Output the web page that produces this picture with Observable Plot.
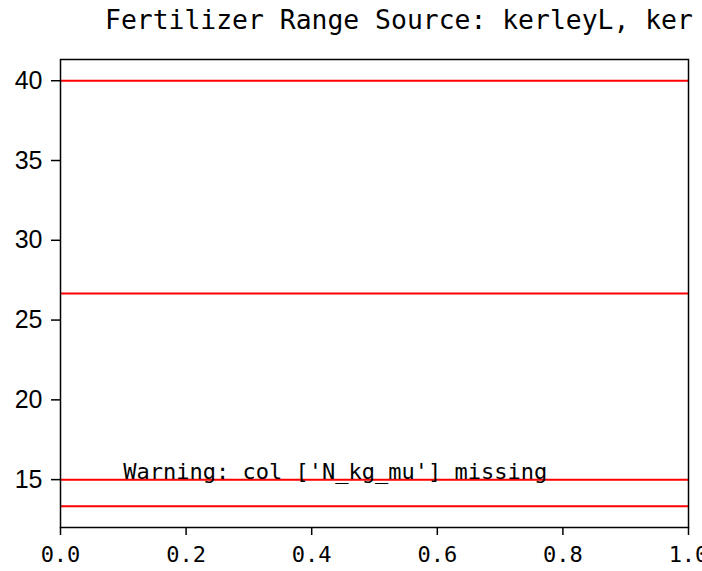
<!DOCTYPE html>
<html>
<head>
<meta charset="utf-8">
<script src="https://cdn.jsdelivr.net/npm/d3@7"></script>
<script src="https://cdn.jsdelivr.net/npm/@observablehq/plot@0.6"></script>
<style>
  html, body { margin: 0; padding: 0; background: #fff; overflow: hidden; width: 702px; height: 571px; }
  #title { height: 45px; box-sizing: border-box; padding-top: 4px; padding-left: 105px; white-space: nowrap; overflow: hidden;
           font-family: "DejaVu Sans Mono", monospace; font-size: 26.4px; color: #000; }
  svg { display: block; overflow: hidden; }
</style>
</head>
<body>
<div id="title"></div>
<div id="chart"></div>
<script>
const titleText = "Fertilizer Range Source: kerleyL, ker";
const lineValues = [40, 26.67, 15, 13.33];
const xTicks = [0, 0.2, 0.4, 0.6, 0.8, 1.0];
const yTicks = [15, 20, 25, 30, 35, 40];
const xDomain = [0, 1];
const yDomain = [12.0, 41.33];
const noteText = ["Warning: col ['N_kg_mu'] missing"];
const noteX = 0.1;
const noteY = 15;

document.getElementById("title").textContent = titleText;

const chart = Plot.plot({
  width: 702,
  height: 526,
  marginTop: 14,
  marginBottom: 44,
  marginLeft: 60,
  marginRight: 14,
  x: { domain: xDomain, label: null },
  y: { domain: yDomain, label: null },
  marks: [
    Plot.ruleY(lineValues, { stroke: "#ff0000", strokeWidth: 2 }),
    Plot.text(noteText, {
      x: () => noteX, y: () => noteY, text: d => d,
      textAnchor: "start", lineAnchor: "bottom", dy: -1,
      fontSize: 22, fontFamily: "DejaVu Sans Mono", fill: "#000"
    }),
    Plot.frame({ stroke: "#000", strokeWidth: 1.5 }),
    Plot.axisX({
      ticks: xTicks, tickFormat: d3.format(".1f"), tickSize: 8, tickPadding: 11,
      fontSize: 22, fontFamily: "DejaVu Sans Mono", strokeWidth: 1.5, label: null, fill: "#000", stroke: "#000"
    }),
    Plot.axisY({
      ticks: yTicks, tickSize: 9, tickPadding: 9,
      fontSize: 25, fontFamily: "Liberation Sans", strokeWidth: 1.5, label: null, fill: "#000", stroke: "#000"
    })
  ]
});
document.getElementById("chart").appendChild(chart);
</script>
</body>
</html>
